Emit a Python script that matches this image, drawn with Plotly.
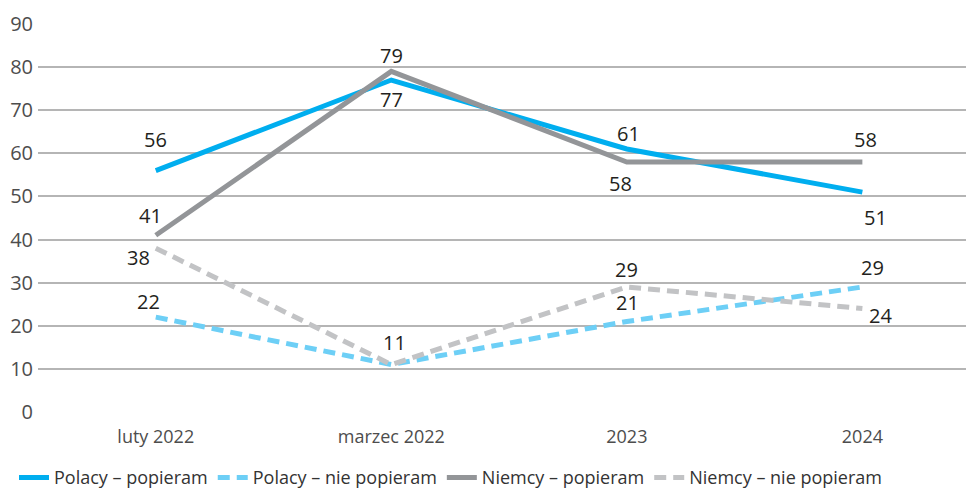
import plotly.graph_objects as go

categories = ["luty 2022", "marzec 2022", "2023", "2024"]
y_ticks = [0, 10, 20, 30, 40, 50, 60, 70, 80, 90]

series_names = ["Polacy – popieram", "Polacy – nie popieram", "Niemcy – popieram", "Niemcy – nie popieram"]
polacy_popieram = [56, 77, 61, 51]
polacy_nie = [22, 11, 21, 29]
niemcy_popieram = [41, 79, 58, 58]
niemcy_nie = [38, 11, 29, 24]

colors = ["#00aeef", "#6dcff6", "#939598", "#c2c3c5"]
dashes = ["solid", "12px,7px", "solid", "12px,7px"]
all_values = [polacy_popieram, polacy_nie, niemcy_popieram, niemcy_nie]

# label offsets in pixels (dx, dy) per series per point
label_offsets = [
    [(0, 31), (0, -19), (2, 16), (13, -25)],
    [(-7, 16), (0, 0), (1, 19), (10, 19)],
    [(-5, 20), (0, 16), (-6, -22), (3, 22)],
    [(-17, -9), (3, 22), (0, 17), (18, -7)],
]
show_label = [
    [True, True, True, True],
    [True, False, True, True],
    [True, True, True, True],
    [True, True, True, True],
]

fig = go.Figure()
for name, vals, col, dsh in zip(series_names, all_values, colors, dashes):
    fig.add_trace(go.Scatter(
        x=categories, y=vals, mode="lines", name=name,
        line=dict(color=col, width=5, dash=dsh),
    ))

annotations = []
for si, vals in enumerate(all_values):
    for pi, v in enumerate(vals):
        if not show_label[si][pi]:
            continue
        dx, dy = label_offsets[si][pi]
        annotations.append(dict(
            x=pi, y=v, xref="x", yref="y", text=str(v), showarrow=False,
            xshift=dx, yshift=dy,
            font=dict(size=20, color="#231f20", family="Open Sans"),
        ))

fig.update_layout(
    width=966, height=490,
    margin=dict(l=38, r=0, t=24, b=78),
    plot_bgcolor="white", paper_bgcolor="white",
    font=dict(family="Open Sans", color="#4d4d4d"),
    annotations=annotations,
    showlegend=True,
    legend=dict(
        orientation="h", x=0.0145, xref="container", xanchor="left",
        y=0.025, yref="container", yanchor="middle",
        font=dict(size=18, color="#333333"),
        itemwidth=30, tracegroupgap=0,
    ),
    xaxis=dict(
        type="category", categoryorder="array", categoryarray=categories,
        range=[-0.5, 3.44], showgrid=False, zeroline=False, showline=False,
        ticks="", tickfont=dict(size=18, color="#4d4d4d"), automargin=False,
        ticklabelstandoff=12,
    ),
    yaxis=dict(
        range=[0, 90], tickvals=y_ticks, showgrid=True,
        gridcolor="#b5b5b5", gridwidth=2, zeroline=False, showline=False,
        ticks="", tickfont=dict(size=20, color="#4d4d4d"), ticklabelstandoff=4,
        automargin=False,
    ),
)

fig.write_html("out.html", config={"displayModeBar": False},
               post_script="document.body.style.margin='0';")
